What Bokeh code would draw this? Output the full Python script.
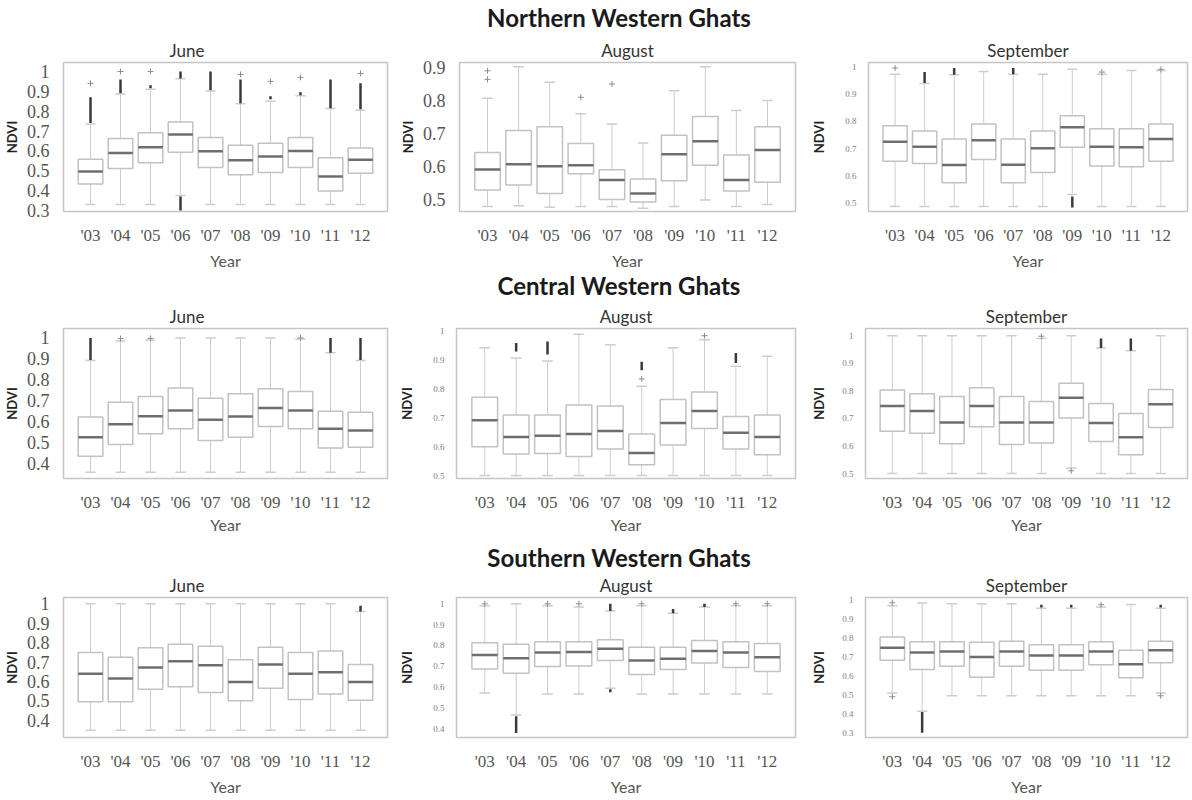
from bokeh.plotting import figure
from bokeh.layouts import column, row
from bokeh.models import Div, Spacer, FactorRange, Range1d, FixedTicker
from bokeh.embed import file_html
from bokeh.resources import INLINE

YEARS = ["'03", "'04", "'05", "'06", "'07", "'08", "'09", "'10", "'11", "'12"]
GROUPS = ["Northern Western Ghats", "Central Western Ghats", "Southern Western Ghats"]
MONTHS = ["June", "August", "September"]

# ---------------- Northern Western Ghats ----------------
N_JUN_LOW = [0.33, 0.33, 0.33, 0.375, 0.33, 0.33, 0.33, 0.33, 0.33, 0.33]
N_JUN_Q1 = [0.434, 0.512, 0.541, 0.593, 0.517, 0.480, 0.491, 0.517, 0.398, 0.488]
N_JUN_MED = [0.496, 0.590, 0.618, 0.683, 0.598, 0.553, 0.572, 0.600, 0.471, 0.556]
N_JUN_Q3 = [0.558, 0.662, 0.691, 0.745, 0.667, 0.629, 0.639, 0.667, 0.566, 0.615]
N_JUN_HIGH = [0.735, 0.886, 0.910, 0.963, 0.902, 0.837, 0.850, 0.878, 0.813, 0.805]
N_JUN_DENSE = [("'03", 0.74, 0.87), ("'04", 0.89, 0.96), ("'05", 0.915, 0.93), ("'06", 0.965, 1.0),
               ("'06", 0.30, 0.37), ("'07", 0.905, 1.0), ("'08", 0.84, 0.96), ("'09", 0.86, 0.875),
               ("'10", 0.88, 0.895), ("'11", 0.815, 0.96), ("'12", 0.81, 0.94)]
N_JUN_PTS = [("'03", 0.94), ("'04", 1.0), ("'05", 1.0), ("'08", 0.985), ("'09", 0.95), ("'10", 0.97), ("'12", 0.99)]

N_AUG_LOW = [0.48, 0.482, 0.478, 0.48, 0.48, 0.475, 0.48, 0.50, 0.48, 0.486]
N_AUG_Q1 = [0.530, 0.545, 0.519, 0.579, 0.501, 0.494, 0.558, 0.605, 0.527, 0.553]
N_AUG_MED = [0.592, 0.608, 0.602, 0.605, 0.560, 0.519, 0.638, 0.677, 0.560, 0.651]
N_AUG_Q3 = [0.643, 0.710, 0.721, 0.670, 0.591, 0.563, 0.695, 0.752, 0.636, 0.721]
N_AUG_HIGH = [0.807, 0.902, 0.855, 0.760, 0.729, 0.672, 0.830, 0.902, 0.770, 0.800]
N_AUG_DENSE = []
N_AUG_PTS = [("'03", 0.864), ("'03", 0.89), ("'06", 0.81), ("'07", 0.85)]

N_SEP_LOW = [0.488, 0.488, 0.488, 0.488, 0.488, 0.488, 0.532, 0.488, 0.488, 0.488]
N_SEP_Q1 = [0.654, 0.646, 0.575, 0.660, 0.575, 0.613, 0.705, 0.636, 0.634, 0.654]
N_SEP_MED = [0.725, 0.707, 0.640, 0.731, 0.641, 0.701, 0.778, 0.707, 0.705, 0.735]
N_SEP_Q3 = [0.784, 0.764, 0.735, 0.790, 0.735, 0.764, 0.820, 0.773, 0.773, 0.790]
N_SEP_HIGH = [0.972, 0.938, 0.970, 0.982, 0.972, 0.972, 0.990, 0.972, 0.986, 0.986]
N_SEP_DENSE = [("'04", 0.94, 0.98), ("'05", 0.97, 0.995), ("'07", 0.972, 0.995), ("'09", 0.485, 0.525)]
N_SEP_PTS = [("'03", 0.995), ("'10", 0.98), ("'12", 0.99)]

# ---------------- Central Western Ghats ----------------
C_JUN_LOW = [0.36, 0.36, 0.36, 0.36, 0.36, 0.36, 0.36, 0.36, 0.36, 0.36]
C_JUN_Q1 = [0.436, 0.492, 0.543, 0.567, 0.511, 0.527, 0.578, 0.567, 0.475, 0.479]
C_JUN_MED = [0.527, 0.588, 0.627, 0.654, 0.610, 0.626, 0.666, 0.654, 0.567, 0.559]
C_JUN_Q3 = [0.623, 0.694, 0.721, 0.761, 0.713, 0.734, 0.758, 0.745, 0.651, 0.646]
C_JUN_HIGH = [0.893, 0.985, 0.990, 1.0, 1.0, 1.0, 1.0, 0.995, 0.930, 0.893]
C_JUN_DENSE = [("'03", 0.895, 1.0), ("'11", 0.93, 1.0), ("'12", 0.895, 1.0)]
C_JUN_PTS = [("'04", 0.997), ("'05", 0.998), ("'10", 1.0)]

C_AUG_LOW = [0.50, 0.50, 0.50, 0.50, 0.50, 0.50, 0.50, 0.50, 0.50, 0.50]
C_AUG_Q1 = [0.600, 0.575, 0.577, 0.566, 0.592, 0.538, 0.606, 0.663, 0.592, 0.572]
C_AUG_MED = [0.692, 0.634, 0.638, 0.644, 0.655, 0.578, 0.682, 0.724, 0.649, 0.634]
C_AUG_Q3 = [0.772, 0.710, 0.710, 0.745, 0.741, 0.644, 0.764, 0.790, 0.705, 0.710]
C_AUG_HIGH = [0.943, 0.908, 0.897, 0.990, 0.954, 0.810, 0.943, 0.971, 0.879, 0.914]
C_AUG_DENSE = [("'04", 0.93, 0.96), ("'05", 0.92, 0.965), ("'08", 0.865, 0.895), ("'11", 0.89, 0.925)]
C_AUG_PTS = [("'08", 0.835), ("'10", 0.985)]

C_SEP_LOW = [0.50, 0.50, 0.50, 0.50, 0.50, 0.50, 0.52, 0.50, 0.50, 0.50]
C_SEP_Q1 = [0.653, 0.646, 0.608, 0.670, 0.605, 0.611, 0.701, 0.616, 0.568, 0.667]
C_SEP_MED = [0.745, 0.727, 0.685, 0.745, 0.685, 0.685, 0.775, 0.683, 0.632, 0.751]
C_SEP_Q3 = [0.803, 0.789, 0.779, 0.811, 0.779, 0.761, 0.827, 0.754, 0.718, 0.805]
C_SEP_HIGH = [1.0, 1.0, 1.0, 1.0, 1.0, 0.99, 1.0, 0.955, 0.945, 1.0]
C_SEP_DENSE = [("'10", 0.955, 0.99), ("'11", 0.945, 0.99)]
C_SEP_PTS = [("'08", 0.998), ("'09", 0.51)]

# ---------------- Southern Western Ghats ----------------
S_JUN_LOW = [0.349, 0.349, 0.349, 0.349, 0.349, 0.349, 0.349, 0.349, 0.349, 0.349]
S_JUN_Q1 = [0.496, 0.496, 0.560, 0.573, 0.544, 0.501, 0.565, 0.507, 0.536, 0.504]
S_JUN_MED = [0.640, 0.616, 0.672, 0.704, 0.683, 0.597, 0.688, 0.640, 0.648, 0.597]
S_JUN_Q3 = [0.749, 0.725, 0.773, 0.792, 0.781, 0.712, 0.776, 0.749, 0.757, 0.688]
S_JUN_HIGH = [1.0, 1.0, 1.0, 1.0, 1.0, 1.0, 1.0, 1.0, 1.0, 0.96]
S_JUN_DENSE = [("'12", 0.96, 0.99)]
S_JUN_PTS = []

S_AUG_LOW = [0.572, 0.466, 0.567, 0.567, 0.595, 0.567, 0.567, 0.567, 0.567, 0.567]
S_AUG_Q1 = [0.687, 0.667, 0.699, 0.701, 0.728, 0.660, 0.684, 0.716, 0.694, 0.675]
S_AUG_MED = [0.754, 0.739, 0.766, 0.769, 0.784, 0.728, 0.736, 0.773, 0.766, 0.743]
S_AUG_Q3 = [0.813, 0.806, 0.818, 0.818, 0.827, 0.791, 0.791, 0.824, 0.818, 0.809]
S_AUG_HIGH = [0.99, 1.0, 0.99, 0.985, 0.965, 0.99, 0.955, 0.985, 0.99, 0.99]
S_AUG_DENSE = [("'04", 0.38, 0.46), ("'07", 0.965, 1.0), ("'07", 0.575, 0.59), ("'09", 0.955, 0.975), ("'10", 0.985, 1.0)]
S_AUG_PTS = [("'03", 1.0), ("'05", 1.0), ("'06", 1.0), ("'08", 1.0), ("'11", 1.0), ("'12", 1.0)]

S_SEP_LOW = [0.51, 0.414, 0.495, 0.495, 0.495, 0.495, 0.495, 0.495, 0.495, 0.51]
S_SEP_Q1 = [0.682, 0.634, 0.650, 0.593, 0.650, 0.630, 0.630, 0.658, 0.590, 0.669]
S_SEP_MED = [0.748, 0.723, 0.728, 0.699, 0.728, 0.707, 0.707, 0.728, 0.661, 0.735]
S_SEP_Q3 = [0.805, 0.780, 0.780, 0.777, 0.783, 0.764, 0.764, 0.780, 0.735, 0.783]
S_SEP_HIGH = [0.970, 0.984, 0.980, 0.980, 0.980, 0.956, 0.956, 0.963, 0.976, 0.956]
S_SEP_DENSE = [("'04", 0.30, 0.41), ("'08", 0.96, 0.975), ("'09", 0.96, 0.975), ("'12", 0.96, 0.975)]
S_SEP_PTS = [("'03", 0.985), ("'03", 0.49), ("'10", 0.975), ("'12", 0.495)]

BOX_COLOR = "#c2c2c2"
WHISK_COLOR = "#cdcdcd"
MED_COLOR = "#6e6e6e"
OUT_COLOR = "#3a3a3a"
PT_COLOR = "#8c8c8c"


def panel(title, low, q1, med, q3, high, dense, pts, yrange, ticks, big,
          w, h, mbl, mbr, mbt, mbb, lab_so, title_offset=None, x_over=None, x_lab_so=3):
    p = figure(x_range=FactorRange(*YEARS, range_padding=0.4, range_padding_units="absolute"),
               y_range=Range1d(*yrange), width=w, height=h,
               min_border_left=mbl, min_border_right=mbr, min_border_top=mbt, min_border_bottom=mbb,
               output_backend="svg", toolbar_location=None, title=title)
    p.title.text_font = "Lato"
    p.title.text_font_size = "17px"
    p.title.text_font_style = "normal"
    p.title.text_color = "#333333"
    p.title.standoff = 4
    if title_offset is None:
        p.title.align = "center"
    else:
        p.title.align = "left"
        p.title.offset = title_offset

    # whiskers
    p.segment(x0=YEARS, y0=low, x1=YEARS, y1=q1, line_color=WHISK_COLOR, line_width=1)
    p.segment(x0=YEARS, y0=q3, x1=YEARS, y1=high, line_color=WHISK_COLOR, line_width=1)
    # caps
    p.rect(x=YEARS, y=low, width=0.34, height=1.5, height_units="screen",
           fill_color=WHISK_COLOR, line_color=None)
    p.rect(x=YEARS, y=high, width=0.34, height=1.5, height_units="screen",
           fill_color=WHISK_COLOR, line_color=None)
    # boxes
    p.vbar(x=YEARS, bottom=q1, top=q3, width=0.82, fill_color="white",
           line_color=BOX_COLOR, line_width=1.5)
    # medians
    p.rect(x=YEARS, y=med, width=0.82, height=2.5, height_units="screen",
           fill_color=MED_COLOR, line_color=None)
    # outliers
    if dense:
        p.segment(x0=[d[0] for d in dense], y0=[d[1] for d in dense],
                  x1=[d[0] for d in dense], y1=[d[2] for d in dense],
                  line_color=OUT_COLOR, line_width=2.5)
    if pts:
        p.scatter(x=[d[0] for d in pts], y=[d[1] for d in pts], marker="cross",
                  size=6, line_color=PT_COLOR, line_width=1)

    p.xgrid.visible = False
    p.ygrid.visible = False
    p.outline_line_color = "#c6c6c6"
    p.outline_line_width = 1.5
    p.background_fill_color = "white"
    p.border_fill_color = "white"
    for ax in p.axis:
        ax.axis_line_color = None
        ax.major_tick_line_color = None
        ax.minor_tick_line_color = None

    p.yaxis.ticker = FixedTicker(ticks=ticks)
    p.yaxis.major_label_overrides = {1: "1"}
    p.yaxis.major_label_text_font = "Liberation Serif"
    if big:
        p.yaxis.major_label_text_font_size = "18px"
        p.yaxis.major_label_text_color = "#555555"
        p.yaxis.major_label_standoff = 8
    else:
        p.yaxis.major_label_text_font_size = "9px"
        p.yaxis.major_label_text_color = "#808080"
        p.yaxis.major_label_standoff = 6
    p.yaxis.axis_label = "NDVI"
    p.yaxis.axis_label_text_font = "Lato"
    p.yaxis.axis_label_text_font_style = "bold"
    p.yaxis.axis_label_text_font_size = "13px"
    p.yaxis.axis_label_text_color = "#222222"
    p.yaxis.axis_label_standoff = lab_so

    p.xaxis.major_label_text_font = "Liberation Serif"
    p.xaxis.major_label_text_font_size = "17px"
    p.xaxis.major_label_text_color = "#555555"
    p.xaxis.major_label_standoff = 8
    if x_over:
        p.xaxis.major_label_overrides = x_over
    p.xaxis.axis_label = "Year"
    p.xaxis.axis_label_text_font = "Lato"
    p.xaxis.axis_label_text_font_style = "normal"
    p.xaxis.axis_label_text_font_size = "16px"
    p.xaxis.axis_label_text_color = "#555555"
    p.xaxis.axis_label_standoff = x_lab_so
    return p


def group_title(text, pad, h):
    d = Div(text=(f'<div style="display:block;width:500px;font-family:Lato;font-weight:bold;font-size:24px;'
                  f'color:#1a1a1a;text-align:center;padding-top:{pad}px;line-height:24px;'
                  f'white-space:nowrap">{text}</div>'),
            width=500, height=h, margin=(0, 0, 0, 0))
    return row(Spacer(width=369, height=h, margin=(0, 0, 0, 0)), d)


T_ALL = [0.3, 0.4, 0.5, 0.6, 0.7, 0.8, 0.9, 1.0]
T_4 = [0.4, 0.5, 0.6, 0.7, 0.8, 0.9, 1.0]
T_5 = [0.5, 0.6, 0.7, 0.8, 0.9, 1.0]
T_59 = [0.5, 0.6, 0.7, 0.8, 0.9]

W1, W2, W3 = 396, 412, 382
L1, L2, L3 = 60, 46, 38
R1, R2, R3 = 9, 13, 3

# Row 1
H1, T1, B1 = 240, 30, 58
n1 = panel(MONTHS[0], N_JUN_LOW, N_JUN_Q1, N_JUN_MED, N_JUN_Q3, N_JUN_HIGH, N_JUN_DENSE, N_JUN_PTS,
           (0.295, 1.045), T_ALL, True, W1, H1, L1, R1, T1, B1, 4, title_offset=106)
n2 = panel(MONTHS[1], N_AUG_LOW, N_AUG_Q1, N_AUG_MED, N_AUG_Q3, N_AUG_HIGH, N_AUG_DENSE, N_AUG_PTS,
           (0.465, 0.915), T_59, True, W2, H1, L2, R2, T1, B1, 4)
n3 = panel(MONTHS[2], N_SEP_LOW, N_SEP_Q1, N_SEP_MED, N_SEP_Q3, N_SEP_HIGH, N_SEP_DENSE, N_SEP_PTS,
           (0.47, 1.015), T_5, False, W3, H1, L3, R3, T1, B1, 15, x_over={"'11": "11"})

# Row 2
H2, T2, B2 = 236, 28, 58
c1 = panel(MONTHS[0], C_JUN_LOW, C_JUN_Q1, C_JUN_MED, C_JUN_Q3, C_JUN_HIGH, C_JUN_DENSE, C_JUN_PTS,
           (0.33, 1.045), T_4, True, W1, H2, L1, R1, T2, B2, 4, title_offset=106, x_lab_so=0)
c2 = panel(MONTHS[1], C_AUG_LOW, C_AUG_Q1, C_AUG_MED, C_AUG_Q3, C_AUG_HIGH, C_AUG_DENSE, C_AUG_PTS,
           (0.49, 1.01), T_5, False, W2, H2, L2, R2, T2, B2, 15, x_lab_so=0)
c3 = panel(MONTHS[2], C_SEP_LOW, C_SEP_Q1, C_SEP_MED, C_SEP_Q3, C_SEP_HIGH, C_SEP_DENSE, C_SEP_PTS,
           (0.482, 1.026), T_5, False, W3, H2, L3, R3, T2, B2, 12, x_lab_so=0)

# Row 3
H3, T3, B3 = 228, 26, 56
s1 = panel(MONTHS[0], S_JUN_LOW, S_JUN_Q1, S_JUN_MED, S_JUN_Q3, S_JUN_HIGH, S_JUN_DENSE, S_JUN_PTS,
           (0.312, 1.032), T_4, True, W1, H3, L1, R1, T3, B3, 4, title_offset=106)
s2 = panel(MONTHS[1], S_AUG_LOW, S_AUG_Q1, S_AUG_MED, S_AUG_Q3, S_AUG_HIGH, S_AUG_DENSE, S_AUG_PTS,
           (0.358, 1.03), T_4, False, W2, H3, L2, R2, T3, B3, 15)
s3 = panel(MONTHS[2], S_SEP_LOW, S_SEP_Q1, S_SEP_MED, S_SEP_Q3, S_SEP_HIGH, S_SEP_DENSE, S_SEP_PTS,
           (0.275, 1.013), T_ALL, False, W3, H3, L3, R3, T3, B3, 12)

layout = column(
    group_title(GROUPS[0], 6, 32),
    row(n1, n2, n3),
    group_title(GROUPS[1], 2, 28),
    row(c1, c2, c3),
    group_title(GROUPS[2], 10, 34),
    row(s1, s2, s3),
)

open("out.html", "w").write(file_html(layout, INLINE))
